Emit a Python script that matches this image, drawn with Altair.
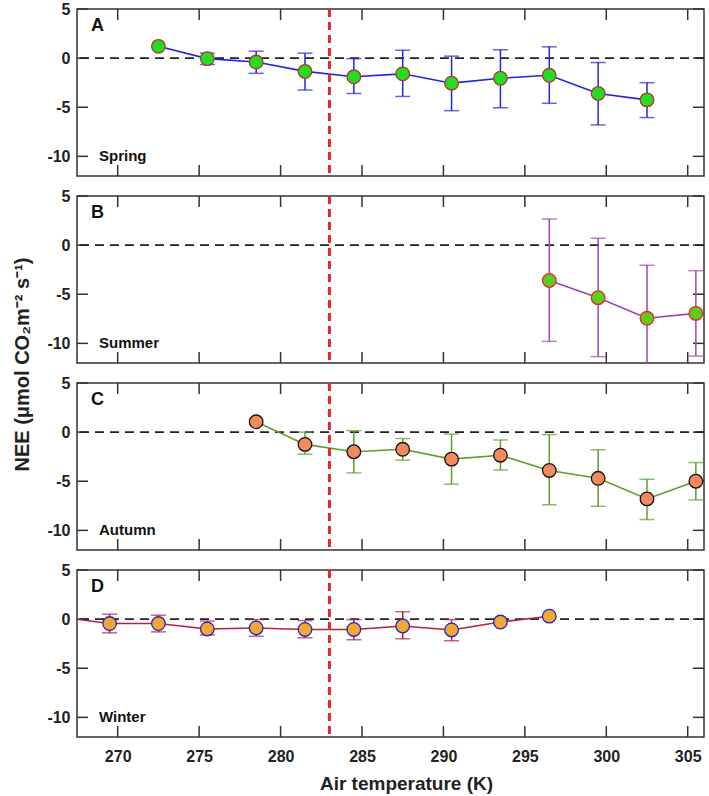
import altair as alt
import pandas as pd

# Seasonal net ecosystem exchange binned by air temperature (mean with spread)
x_ticks = [270, 275, 280, 285, 290, 295, 300, 305]
y_ticks = [-10, -5, 0, 5]
threshold_temp = 283

spring_temp = [272.5, 275.5, 278.5, 281.5, 284.5, 287.5, 290.5, 293.5, 296.5, 299.5, 302.5]
spring_nee = [1.2, -0.05, -0.4, -1.35, -1.9, -1.6, -2.55, -2.05, -1.75, -3.6, -4.25]
spring_lo = [None, -0.65, -1.55, -3.25, -3.6, -3.9, -5.35, -5.05, -4.6, -6.8, -6.05]
spring_hi = [None, 0.5, 0.7, 0.5, -0.05, 0.8, 0.2, 0.85, 1.15, -0.45, -2.5]

summer_temp = [296.5, 299.5, 302.5, 305.5]
summer_nee = [-3.6, -5.35, -7.45, -6.95]
summer_lo = [-9.8, -11.35, -12.6, -11.3]
summer_hi = [2.65, 0.7, -2.05, -2.6]

autumn_temp = [278.5, 281.5, 284.5, 287.5, 290.5, 293.5, 296.5, 299.5, 302.5, 305.5]
autumn_nee = [1.05, -1.25, -2.0, -1.75, -2.75, -2.35, -3.9, -4.7, -6.8, -5.0]
autumn_lo = [None, -2.25, -4.15, -2.85, -5.3, -3.85, -7.4, -7.55, -8.9, -6.9]
autumn_hi = [None, 0.0, 0.15, -0.65, -0.2, -0.8, -0.25, -1.8, -4.8, -3.1]

winter_temp = [266.5, 269.5, 272.5, 275.5, 278.5, 281.5, 284.5, 287.5, 290.5, 293.5, 296.5]
winter_nee = [0.2, -0.45, -0.45, -1.0, -0.9, -1.05, -1.05, -0.7, -1.1, -0.3, 0.3]
winter_lo = [None, -1.4, -1.3, -1.6, -1.75, -1.9, -2.1, -2.0, -2.2, None, None]
winter_hi = [None, 0.5, 0.4, -0.2, -0.05, -0.15, -0.05, 0.75, -0.05, None, None]

W, H = 627, 167
FONT = "Liberation Sans"
TICK_LEN = 11
FRAME = "#333333"

xs = alt.Scale(domain=[267.5, 306], nice=False, zero=False)
ys = alt.Scale(domain=[-12, 5], nice=False, zero=False)

Y_AXIS = alt.Axis(values=y_ticks, ticks=False, tickSize=0, domain=False,
                  grid=False, labelFontSize=16, labelFontWeight="bold",
                  labelFont=FONT, labelColor="#222", labelPadding=7,
                  labelExpr="'' + datum.value", title=None)
X_AXIS = alt.Axis(values=x_ticks, ticks=False, tickSize=0, domain=False,
                  grid=False, labelFontSize=16, labelFontWeight="bold",
                  labelFont=FONT, labelColor="#222", labelPadding=11,
                  labelFlush=False, format="d",
                  title="Air temperature (K)", titleFontSize=19,
                  titleFontWeight="bold", titleFont=FONT,
                  titleColor="#222", titlePadding=10, titleX=329,
                  titleAlign="center")


def panel(temp, nee, lo, hi, letter, season, line_color, fill, edge,
          show_x=False, y_title=None):
    df = pd.DataFrame({"temp": temp, "nee": nee, "lo": lo, "hi": hi})
    base = alt.Chart(df)
    bars = base.transform_filter("isValid(datum.lo)")
    x_axis = X_AXIS if show_x else None

    def X(field):
        return alt.X(field, scale=xs, axis=x_axis, title=None)

    def Y(field):
        return alt.Y(field, scale=ys, axis=Y_AXIS, title=None)

    # inward frame ticks on all four sides
    xt = alt.Chart(pd.DataFrame({"t": x_ticks}))
    yt = alt.Chart(pd.DataFrame({"t": y_ticks}))
    tick_style = dict(color=FRAME, strokeWidth=1.5)
    ticks = [
        xt.mark_rule(**tick_style).encode(x=X("t:Q"),
                                          y=alt.value(0), y2=alt.value(TICK_LEN)),
        xt.mark_rule(**tick_style).encode(x=X("t:Q"),
                                          y=alt.value(H), y2=alt.value(H - TICK_LEN)),
        yt.mark_rule(**tick_style).encode(y=Y("t:Q"),
                                          x=alt.value(0), x2=alt.value(TICK_LEN)),
        yt.mark_rule(**tick_style).encode(y=Y("t:Q"),
                                          x=alt.value(W), x2=alt.value(W - TICK_LEN)),
    ]

    zero = alt.Chart(pd.DataFrame({"v": [0]})).mark_rule(
        color="#222", strokeWidth=1.8, strokeDash=[9, 6]
    ).encode(y=Y("v:Q"))

    err = bars.mark_rule(color=line_color, strokeWidth=1.5, clip=True).encode(
        x=X("temp:Q"), y=Y("lo:Q"), y2="hi:Q")
    cap_lo = bars.mark_tick(color=line_color, orient="horizontal", size=15,
                            thickness=1.5, clip=True).encode(
        x=X("temp:Q"), y=Y("lo:Q"))
    cap_hi = bars.mark_tick(color=line_color, orient="horizontal", size=15,
                            thickness=1.5, clip=True).encode(
        x=X("temp:Q"), y=Y("hi:Q"))

    line = base.mark_line(color=line_color, strokeWidth=1.6, clip=True).encode(
        x=X("temp:Q"), y=Y("nee:Q"))
    pts = base.mark_circle(size=185, fill=fill, stroke=edge, strokeWidth=1.3,
                           opacity=1, clip=True).encode(
        x=X("temp:Q"), y=Y("nee:Q"))

    threshold = alt.Chart(pd.DataFrame({"t": [threshold_temp]})).mark_rule(
        color="#e8262a", strokeWidth=3, strokeDash=[8, 5]
    ).encode(x=X("t:Q"))

    lab = alt.Chart(pd.DataFrame({"letter": [letter], "season": [season], "v": [-10]}))
    letter_txt = lab.mark_text(font=FONT, fontSize=18, fontWeight="bold",
                               color="#111", align="left",
                               baseline="alphabetic").encode(
        x=alt.value(14), y=alt.value(22), text="letter:N")
    season_txt = lab.mark_text(font=FONT, fontSize=15, fontWeight="bold",
                               color="#111", align="left",
                               baseline="middle").encode(
        x=alt.value(22), y=Y("v:Q"), text="season:N")

    layers = [*ticks, zero, err, cap_lo, cap_hi, line, pts, threshold,
              letter_txt, season_txt]
    if y_title:
        yt_txt = alt.Chart(pd.DataFrame({"t": [y_title]})).mark_text(
            font=FONT, fontSize=20, fontWeight="bold", color="#222",
            angle=270, align="center", baseline="middle").encode(
            x=alt.value(-54), y=alt.value(168.5), text="t:N")
        layers.append(yt_txt)
    return alt.layer(*layers).properties(width=W, height=H)


pA = panel(spring_temp, spring_nee, spring_lo, spring_hi, "A", "Spring",
           "#2323e0", "#22dd22", "#b5362a")
pB = panel(summer_temp, summer_nee, summer_lo, summer_hi, "B", "Summer",
           "#9b45b5", "#5ccc1e", "#e8281c",
           y_title="NEE (\u03bcmol CO\u2082m\u207b\u00b2 s\u207b\u00b9)")
pC = panel(autumn_temp, autumn_nee, autumn_lo, autumn_hi, "C", "Autumn",
           "#5c9e2c", "#f48a5c", "#111111")
pD = panel(winter_temp, winter_nee, winter_lo, winter_hi, "D", "Winter",
           "#b3203f", "#f2a832", "#2424cc", show_x=True)

chart = alt.vconcat(pA, pB, pC, pD, spacing=20, bounds="flush").properties(
    padding={"left": 12, "top": 0, "right": 2, "bottom": 2},
    background="white",
).configure_view(stroke=FRAME, strokeWidth=1.5)

chart.save("out.html", embed_options={"renderer": "svg", "actions": False})
